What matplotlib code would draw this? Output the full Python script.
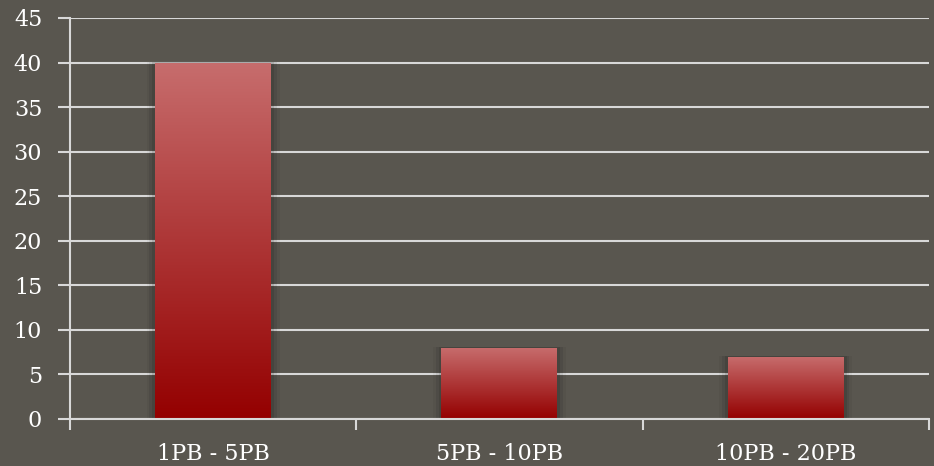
import numpy as np
import matplotlib.pyplot as plt
from matplotlib.colors import LinearSegmentedColormap
from matplotlib.patches import Rectangle

# --- chart data ---
categories = ["1PB - 5PB", "5PB - 10PB", "10PB - 20PB"]
values = [40, 8, 7]
y_ticks = [0, 5, 10, 15, 20, 25, 30, 35, 40, 45]

BG = "#59564f"
GRID = "#d8d8d8"
TOP = "#c76d6d"
BOTTOM = "#940000"
FONT = "DejaVu Serif"

fig = plt.figure(figsize=(9.34, 4.66), dpi=100, facecolor=BG)
ax = fig.add_axes([0.0749, 0.1009, 0.9197, 0.8605], facecolor=BG)

x = np.arange(len(categories))
bar_w = 0.405
cmap = LinearSegmentedColormap.from_list("bar", [BOTTOM, TOP])
grad = np.linspace(0, 1, 256).reshape(-1, 1)

bars = ax.bar(x, values, width=bar_w, color="none", zorder=3)
for b in bars:
    bx, bw, bh = b.get_x(), b.get_width(), b.get_height()
    # soft shadow around the bar
    for k, a in enumerate([0.10, 0.07, 0.04]):
        d = 0.010 * (k + 1)
        ax.add_patch(Rectangle((bx - d, 0), bw + 2 * d, bh + d * 3,
                               facecolor="black", alpha=a, edgecolor="none", zorder=2.5))
    im = ax.imshow(grad, extent=[bx, bx + bw, 0, bh], origin="lower",
                   cmap=cmap, aspect="auto", zorder=3)
    im.set_clip_path(b)

ax.set_xlim(-0.5, len(categories) - 0.5)
ax.set_ylim(0, 45)
ax.set_yticks(y_ticks)
ax.set_yticklabels([str(t) for t in y_ticks], fontsize=16, family=FONT, color="white")
ax.set_xticks(x)
ax.set_xticklabels(categories, fontsize=16, family=FONT, color="white")
ax.tick_params(axis="x", length=0, pad=17)
ax.tick_params(axis="y", length=9, width=1.5, color=GRID, pad=11)

# category boundary ticks on x axis
ax.set_xticks(np.arange(-0.5, len(categories), 1.0), minor=True)
ax.tick_params(axis="x", which="minor", length=8, width=1.5, color=GRID, direction="out")

ax.grid(axis="y", color=GRID, linewidth=1.5, zorder=1)
ax.set_axisbelow(True)
for s in ["top", "right"]:
    ax.spines[s].set_visible(False)
ax.spines["left"].set_color(GRID)
ax.spines["left"].set_linewidth(1.5)
ax.spines["bottom"].set_color(GRID)
ax.spines["bottom"].set_linewidth(1.5)
ax.spines["bottom"].set_zorder(4)

fig.savefig("out.png", dpi=100, facecolor=BG)
